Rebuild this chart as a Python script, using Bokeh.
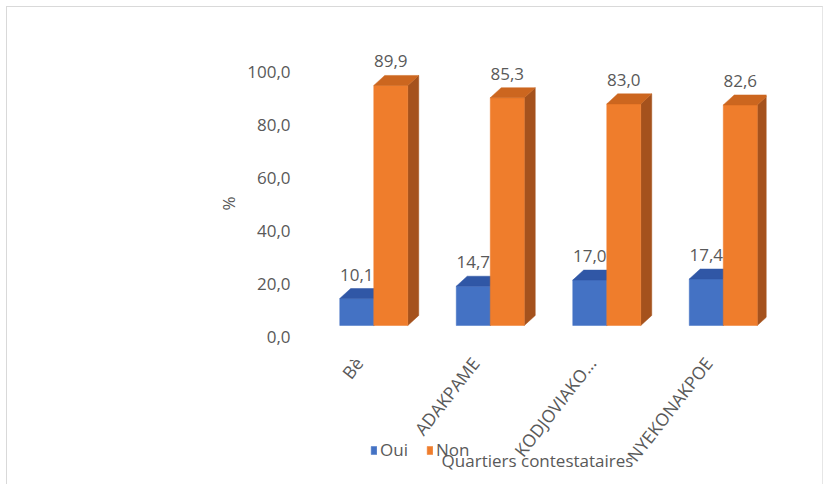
import math
from bokeh.plotting import figure
from bokeh.models import (FactorRange, Range1d, LinearAxis, FixedTicker, ColumnDataSource,
                          Legend, LegendItem, Label, Title)
from bokeh.transform import dodge
from bokeh.core.properties import value
from bokeh.embed import file_html
from bokeh.resources import INLINE

# ---- data ----
categories = ["Bè", "ADAKPAME", "KODJOVIAKO...", "NYEKONAKPOE"]
oui = [10.1, 14.7, 17.0, 17.4]
non = [89.9, 85.3, 83.0, 82.6]
oui_labels = ["10,1", "14,7", "17,0", "17,4"]
non_labels = ["89,9", "85,3", "83,0", "82,6"]
y_tick_values = [0, 20, 40, 60, 80, 100]
y_tick_labels = ["0,0", "20,0", "40,0", "60,0", "80,0", "100,0"]
series_names = ["Oui", "Non"]
x_title = "Quartiers contestataires"
y_title = "%"

# ---- styles ----
FONT = "Open Sans"
GRAY = "#595959"
BLUE = "#4472C4"; BLUE_TOP = "#3057A6"; BLUE_SIDE = "#2A4A8C"
ORANGE = "#EF7D2C"; ORANGE_TOP = "#CC661F"; ORANGE_SIDE = "#A5521D"
BAR_W = 0.292     # width of one bar in category units
SHIFT = 0.129     # bar group offset from category tick
DX = 0.094        # 3D depth offset (category units)
DY = 3.75         # 3D depth offset (value units)

p = figure(x_range=FactorRange(*categories), y_range=Range1d(-59.93, 106.74),
           width=817, height=478, output_backend="svg", toolbar_location=None,
           min_border_left=293, min_border_right=58, min_border_top=33, min_border_bottom=0,
           y_axis_location=None, outline_line_color=None)
p.styles = {"margin-left": "6px", "margin-top": "6px",
            "border-top": "1px solid #d9d9d9", "border-left": "1px solid #d9d9d9",
            "border-right": "1px solid #e6e6e6"}
p.grid.visible = False
p.background_fill_color = "white"
p.border_fill_color = "white"

# y axis (back wall scale)
p.extra_y_ranges = {"wall": Range1d(-55.79, 111.95)}
yax = LinearAxis(y_range_name="wall", ticker=FixedTicker(ticks=y_tick_values),
                 major_label_overrides={v: l for v, l in zip(y_tick_values, y_tick_labels)})
yax.axis_line_color = None
yax.major_tick_line_color = None
yax.minor_tick_line_color = None
yax.major_tick_out = 0
yax.major_label_standoff = 10
yax.major_label_text_font = FONT
yax.major_label_text_font_size = "17px"
yax.major_label_text_color = GRAY
p.add_layout(yax, "left")
p.add_layout(Title(text=y_title, align="right", offset=156, standoff=9,
                   text_font=FONT, text_font_size="17px", text_font_style="normal",
                   text_color=GRAY), "left")

xax = p.xaxis[0]
xax.fixed_location = -7.87
xax.axis_line_color = None
xax.major_tick_line_color = None
xax.minor_tick_line_color = None
xax.major_tick_out = 0
xax.major_label_orientation = math.radians(52)
xax.major_label_standoff = 13
xax.major_label_text_font = FONT
xax.major_label_text_font_size = "17.5px"
xax.major_label_text_color = GRAY

# ---- bars ----
src = ColumnDataSource(dict(cat=categories, oui=oui, non=non, oui_lab=oui_labels, non_lab=non_labels))

def faces(vals, offset):
    tops_x, tops_y, side_x, side_y = [], [], [], []
    for i, v in enumerate(vals):
        xl = i + 0.5 + offset - BAR_W / 2
        xr = xl + BAR_W
        tops_x.append([xl, xr, xr + DX, xl + DX])
        tops_y.append([v, v, v + DY, v + DY])
        side_x.append([xr, xr, xr + DX, xr + DX])
        side_y.append([0, v, v + DY, DY])
    return tops_x, tops_y, side_x, side_y

renderers = []
for vals, key, off, c_front, c_top, c_side in [
        (oui, "oui", SHIFT - BAR_W / 2, BLUE, BLUE_TOP, BLUE_SIDE),
        (non, "non", SHIFT + BAR_W / 2, ORANGE, ORANGE_TOP, ORANGE_SIDE)]:
    tx, ty, sx, sy = faces(vals, off)
    p.patches(sx, sy, fill_color=c_side, line_color=c_side, line_width=0.5)
    r = p.vbar(x=dodge("cat", off, range=p.x_range), top=key, bottom=0, width=BAR_W,
               source=src, fill_color=c_front, line_color=c_front, line_width=0.5)
    p.patches(tx, ty, fill_color=c_top, line_color=c_top, line_width=0.5)
    renderers.append(r)

# data labels
for key, lab, off in [("oui", "oui_lab", SHIFT - BAR_W / 2), ("non", "non_lab", SHIFT + BAR_W / 2)]:
    p.text(x=dodge("cat", off, range=p.x_range), y=key, text=lab, source=src,
           text_align="center", text_baseline="bottom", y_offset=-18,
           text_font=value(FONT), text_font_size="17px", text_color=GRAY)

# legend
legend = Legend(items=[LegendItem(label=series_names[0], renderers=[renderers[0]]),
                       LegendItem(label=series_names[1], renderers=[renderers[1]])],
                orientation="horizontal", location=(70, 24),
                glyph_width=7, glyph_height=10, label_standoff=3, spacing=18,
                padding=0, margin=0, border_line_color=None, background_fill_alpha=0,
                label_text_font=FONT, label_text_font_size="17px", label_text_color=GRAY,
                label_height=20)
p.add_layout(legend, "center")

# x axis title
p.add_layout(Label(x=237, y=25, x_units="screen", y_units="screen", text=x_title,
                   text_align="center", text_baseline="middle", text_font=FONT,
                   text_font_size="17px", text_color=GRAY))

open("out.html", "w").write(file_html(p, INLINE))
